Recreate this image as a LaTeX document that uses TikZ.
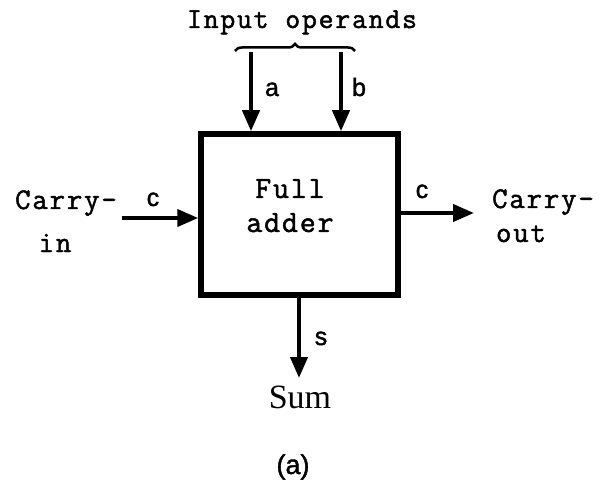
\documentclass[tikz,border=0pt]{standalone}
\usepackage{fontspec}
\setmonofont{Latin Modern Mono}[FakeBold=1.6,LetterSpace=6]
\newfontfamily\lblfont{Liberation Sans}[FakeBold=1.5]
\newfontfamily\serfont{Liberation Serif}
\usetikzlibrary{arrows.meta,decorations.pathreplacing}
\begin{document}
\begin{tikzpicture}[x=1pt,y=-1pt,
  word/.style={font=\ttfamily\fontsize{30}{32}\selectfont, inner sep=0pt, anchor=base},
  lbl/.style={font=\lblfont\fontsize{25}{28}\selectfont, inner sep=0pt, anchor=base},
  arr/.style={line width=4pt, -{Triangle[width=17pt,length=21pt]}},
  blk/.style={draw, line width=5.5pt, minimum width=197pt, minimum height=161pt, inner sep=0pt}]
\useasboundingbox (0,0) rectangle (599,486);
\node[blk] (fa) at (299.5,214.5) {};
\node[word, font=\ttfamily\fontsize{31}{32}\selectfont] (full) at (290,198) {Full};
\node[word, font=\ttfamily\fontsize{31}{32}\selectfont] (adder) at (290,232) {adder};
\node[word, font=\ttfamily\fontsize{29}{30}\selectfont] (inop) at (302,28) {Input operands};
\coordinate (ta) at (251,52);
\coordinate (tb) at (341,52);
\draw[line width=2.5pt, decorate, decoration={brace, amplitude=7pt}] (235,51) -- (355,51);
\draw[arr] (ta) -- (ta |- fa.north);
\draw[arr] (tb) -- (tb |- fa.north);
\node[lbl] (la) at (272,96) {a};
\node[lbl] (lb) at (359,96) {b};
\node[word] (carry1) at (66,209) {Carry-};
\node[word] (in) at (55,252) {in};
\coordinate (cinS) at (122,218);
\draw[arr] (cinS) -- (cinS -| fa.west);
\node[lbl] (lc) at (153,206) {c};
\node[word] (carry2) at (543,208) {Carry-};
\node[word] (out) at (521,242) {out};
\coordinate (coutE) at (474,213);
\draw[arr] (coutE -| fa.east) -- (coutE);
\node[lbl] (lc2) at (422,198) {c};
\coordinate (sumE) at (299,378);
\draw[arr] (sumE |- fa.south) -- (sumE);
\node[lbl] (ls) at (321,345) {s};
\node[word, font=\serfont\fontsize{34}{36}\selectfont] (sum) at (300,408) {Sum};
\node[lbl, font=\lblfont\fontsize{27}{30}\selectfont] (cap) at (293,474) {(a)};
\end{tikzpicture}
\end{document}
